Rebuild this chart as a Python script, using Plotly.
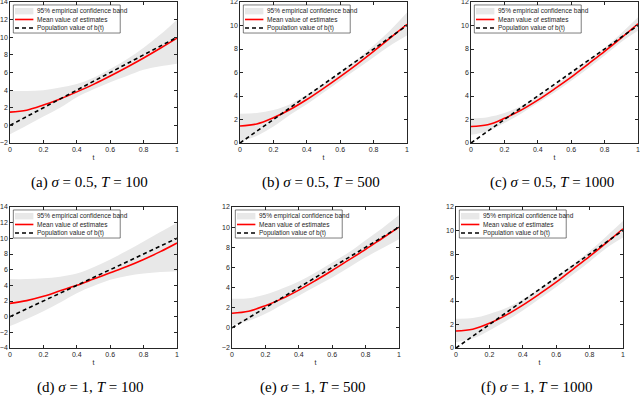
import plotly.graph_objects as go

# time grid for all panels
t = [0, 0.1, 0.2, 0.3, 0.4, 0.5, 0.6, 0.7, 0.8, 0.9, 1.0]
t_pop = [0, 1]
pop_b = [0, 10]  # population value of b(t)

# (a) sigma=0.5, T=100
mean_a = [1.5, 1.72, 2.3, 3.0, 3.8, 4.65, 5.6, 6.6, 7.65, 8.75, 9.9]
upper_a = [3.9, 3.9, 4.0, 4.3, 4.7, 5.4, 6.4, 7.5, 8.8, 10.3, 12.0]
lower_a = [-1.0, 0.0, 1.0, 2.0, 3.2, 4.1, 4.9, 5.6, 6.3, 6.7, 7.0]

# (b) sigma=0.5, T=500
mean_b = [1.45, 1.62, 2.15, 2.85, 3.7, 4.65, 5.65, 6.7, 7.8, 8.95, 10.1]
upper_b = [2.5, 2.55, 2.8, 3.3, 4.1, 5.0, 6.0, 7.1, 8.3, 9.6, 11.1]
lower_b = [0.1, 0.6, 1.4, 2.4, 3.3, 4.3, 5.3, 6.3, 7.3, 8.3, 9.15]

# (c) sigma=0.5, T=1000
mean_c = [1.4, 1.55, 2.1, 2.8, 3.65, 4.6, 5.6, 6.7, 7.8, 8.95, 10.15]
upper_c = [2.1, 2.2, 2.55, 3.15, 3.95, 4.9, 5.9, 7.0, 8.1, 9.35, 10.7]
lower_c = [0.7, 1.0, 1.7, 2.5, 3.4, 4.3, 5.3, 6.35, 7.45, 8.6, 9.55]

# (d) sigma=1, T=100
mean_d = [1.7, 2.05, 2.6, 3.3, 4.0, 4.8, 5.6, 6.4, 7.3, 8.3, 9.4]
upper_d = [4.8, 4.8, 4.9, 5.1, 5.5, 6.3, 7.3, 8.4, 9.6, 10.8, 12.0]
lower_d = [-1.2, -0.3, 0.7, 1.8, 3.0, 3.9, 4.7, 5.2, 5.5, 5.7, 5.8]

# (e) sigma=1, T=500
mean_e = [1.45, 1.65, 2.2, 2.9, 3.75, 4.7, 5.7, 6.75, 7.8, 8.9, 10.0]
upper_e = [2.9, 2.95, 3.3, 3.9, 4.6, 5.5, 6.5, 7.5, 8.7, 9.9, 11.2]
lower_e = [0.25, 0.7, 1.4, 2.3, 3.2, 4.1, 5.0, 6.0, 7.0, 7.9, 8.8]

# (f) sigma=1, T=1000
mean_f = [1.45, 1.6, 2.1, 2.8, 3.65, 4.6, 5.6, 6.7, 7.8, 8.95, 10.15]
upper_f = [2.5, 2.55, 2.9, 3.4, 4.15, 5.05, 6.05, 7.1, 8.25, 9.5, 10.8]
lower_f = [0.5, 0.8, 1.5, 2.3, 3.2, 4.2, 5.2, 6.25, 7.35, 8.5, 9.4]

captions = ['(a) <i>σ</i> = 0.5, <i>T</i> = 100',
            '(b) <i>σ</i> = 0.5, <i>T</i> = 500',
            '(c) <i>σ</i> = 0.5, <i>T</i> = 1000',
            '(d) <i>σ</i> = 1, <i>T</i> = 100',
            '(e) <i>σ</i> = 1, <i>T</i> = 500',
            '(f) <i>σ</i> = 1, <i>T</i> = 1000']
y_ranges = [[-2, 14], [0, 12], [0, 12], [-4, 14], [-2, 12], [0, 12]]
legend_labels = ['95% empirical confidence band', 'Mean value of estimates',
                 'Population value of b(t)']

panels = [(mean_a, upper_a, lower_a), (mean_b, upper_b, lower_b),
          (mean_c, upper_c, lower_c), (mean_d, upper_d, lower_d),
          (mean_e, upper_e, lower_e), (mean_f, upper_f, lower_f)]

W, H = 640, 398
AX_W, AX_H = 167, 141
lefts = [10, 240, 471, 10, 232, 456]
tops = [2, 2, 2, 207, 207, 207]
cap_x = [89, 321, 552, 90, 313, 536]
cap_y = [182, 182, 182, 387, 387, 387]

GREY = 'rgb(232,232,232)'
AXC = '#262626'
SANS = 'Liberation Sans, Arial, sans-serif'

fig = go.Figure()
layout = {}
shapes = []
annots = []

for i, (mean, upper, lower) in enumerate(panels):
    n = i + 1
    xa = 'x' if n == 1 else f'x{n}'
    ya = 'y' if n == 1 else f'y{n}'

    fig.add_trace(go.Scatter(x=t, y=lower, xaxis=xa, yaxis=ya, mode='lines',
                             line=dict(width=0, shape='spline'), showlegend=False,
                             hoverinfo='skip'))
    fig.add_trace(go.Scatter(x=t, y=upper, xaxis=xa, yaxis=ya, mode='lines',
                             line=dict(width=0, shape='spline'), fill='tonexty',
                             fillcolor=GREY, showlegend=False, hoverinfo='skip'))
    fig.add_trace(go.Scatter(x=t, y=mean, xaxis=xa, yaxis=ya, mode='lines',
                             line=dict(color='red', width=1.6, shape='spline'),
                             showlegend=False))
    fig.add_trace(go.Scatter(x=t_pop, y=pop_b, xaxis=xa, yaxis=ya, mode='lines',
                             line=dict(color='black', width=1.6, dash='4px,3px'),
                             showlegend=False))

    x0 = lefts[i] / W
    x1 = (lefts[i] + AX_W) / W
    y1 = 1 - tops[i] / H
    y0 = 1 - (tops[i] + AX_H) / H
    axis_style = dict(showline=True, linecolor=AXC, linewidth=0.6, mirror='ticks',
                      ticks='inside', ticklen=3, tickwidth=0.6, tickcolor=AXC,
                      showgrid=False, zeroline=False, automargin=False,
                      ticklabeloverflow='allow',
                      tickfont=dict(family=SANS, size=7, color=AXC))
    layout['xaxis' if n == 1 else f'xaxis{n}'] = dict(
        domain=[x0, x1], anchor=ya, range=[0, 1], dtick=0.2, tick0=0,
        title=dict(text='t', font=dict(family=SANS, size=7, color=AXC), standoff=2),
        **axis_style)
    layout['yaxis' if n == 1 else f'yaxis{n}'] = dict(
        domain=[y0, y1], anchor=xa, range=y_ranges[i], dtick=2, **axis_style)

    # legend box drawn inside the axes
    xr, yr = f'{xa} domain', f'{ya} domain'
    shapes.append(dict(type='rect', xref=xr, yref=yr, x0=0.02, x1=0.66,
                       y0=0.78, y1=0.979, line=dict(color=AXC, width=0.6),
                       fillcolor='white', layer='above'))
    shapes.append(dict(type='rect', xref=xr, yref=yr, x0=0.03, x1=0.14,
                       y0=0.912, y1=0.958, line=dict(width=0),
                       fillcolor=GREY, layer='above'))
    shapes.append(dict(type='line', xref=xr, yref=yr, x0=0.03, x1=0.14,
                       y0=0.876, y1=0.876, line=dict(color='red', width=1.6),
                       layer='above'))
    shapes.append(dict(type='line', xref=xr, yref=yr, x0=0.03, x1=0.14,
                       y0=0.816, y1=0.816, line=dict(color='black', width=1.6,
                                                     dash='4px,3px'),
                       layer='above'))
    for lab, yy in zip(legend_labels, [0.936, 0.876, 0.816]):
        annots.append(dict(text=lab, xref=xr, yref=yr, x=0.15, y=yy,
                           xanchor='left', yanchor='middle', showarrow=False,
                           font=dict(family=SANS, size=6.5, color=AXC)))

    annots.append(dict(text=captions[i], xref='paper', yref='paper',
                       x=cap_x[i] / W, y=1 - cap_y[i] / H, xanchor='center',
                       yanchor='middle', showarrow=False,
                       font=dict(family='Liberation Serif, serif', size=15,
                                 color='black')))

fig.update_layout(width=W, height=H, margin=dict(l=0, r=0, t=0, b=0),
                  paper_bgcolor='white', plot_bgcolor='white',
                  shapes=shapes, annotations=annots, **layout)

# drop the browser's default body margin so the figure fills the window
fig.write_html("out.html", config={'displayModeBar': False},
               post_script="document.body.style.margin='0';")
